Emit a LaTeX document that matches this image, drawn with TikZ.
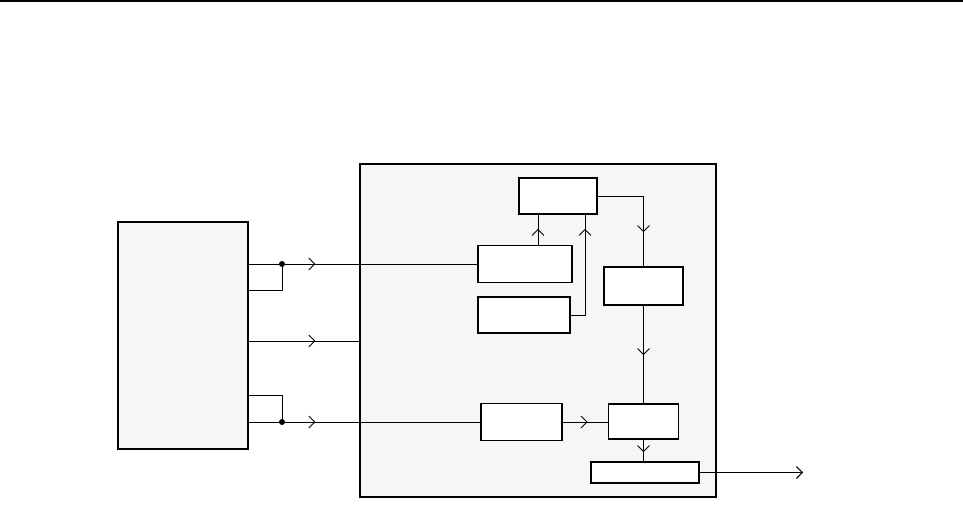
\documentclass[tikz,border=0pt]{standalone}
\usetikzlibrary{arrows.meta,decorations.markings}
\definecolor{panel}{HTML}{F6F6F6}
\begin{document}
\begin{tikzpicture}[
        x=0.75pt, y=-0.75pt,
        box/.style={draw, line width=1.2pt, fill=white, inner sep=0pt},
        frame/.style={box, fill=panel},
        wire/.style={draw, line width=0.7pt},
        barb/.tip={Straight Barb[length=4.5pt,width=9pt]},
        tipat/.style={postaction={decorate}, decoration={markings,
            mark=at position #1 with {\arrow{barb}}}},
    ]
    \useasboundingbox (0,0) rectangle (963,523);
    \draw[line width=1.6pt] (0,1) -- (963,1);

    % outer blocks
    \node[frame, minimum width=97.5pt, minimum height=170.25pt](src) at (183,335.5){};
    \node[frame, minimum width=267pt, minimum height=249.75pt](proc) at (538,330.5){};

    % inner blocks
    \node[box, minimum width=58.5pt, minimum height=27pt](ctl) at (558,196){};
    \node[box, minimum width=70.5pt, minimum height=28pt](inA) at (525,264){};
    \node[box, minimum width=69pt, minimum height=27pt](inB) at (524,315){};
    \node[box, minimum width=59.25pt, minimum height=28.5pt](mix) at (643.5,286){};
    \node[box, minimum width=60.75pt, minimum height=27.75pt](filt) at (521.5,422){};
    \node[box, minimum width=52.5pt, minimum height=26.25pt](sum) at (643.5,421.5){};
    \node[box, minimum width=81pt, minimum height=15.75pt](out) at (645,472.5){};

    \coordinate (j1) at (282,264);
    \coordinate (j2) at (282,422);
    \coordinate (sink) at (803,472.5);

    % inputs
    \draw[wire, tipat=50pt] (src.east |- inA.west) -- (inA.west);
    \draw[wire, tipat=50pt] (src.east |- 0,341) -- (proc.west |- 0,341);
    \draw[wire, tipat=50pt] (src.east |- filt.west) -- (filt.west);
    \draw[wire] (j1) |- (src.east |- 0,290);
    \draw[wire] (j2) |- (src.east |- 0,395);
    \fill (j1) circle (3);
    \fill (j2) circle (3);

    % inside
    \draw[wire, tipat=-10.5pt] (inA.north -| 538,0) -- (ctl.south -| 538,0);
    \draw[wire, tipat=-10.5pt] (inB.east) -| (ctl.south -| 585,0);
    \draw[wire, tipat=-25.5pt] (ctl.east) -| (mix.north);
    \draw[wire, tipat=-36pt] (mix.south) -- (sum.north);
    \draw[wire, tipat=-15pt] (filt.east) -- (filt.east -| sum.west);
    \draw[wire, tipat=-6.75pt] (sum.south) -- (sum.south |- out.north);
    \draw[wire, -barb] (out.east) -- (sink);

\end{tikzpicture}
\end{document}
